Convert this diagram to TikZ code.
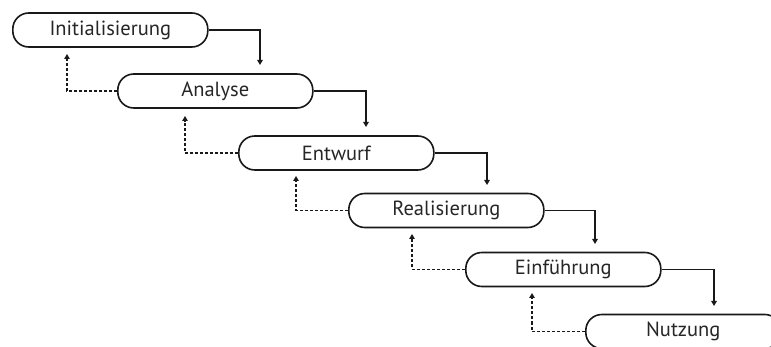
\documentclass[tikz,border=0pt]{standalone}
\usepackage{fontspec}
\setmainfont{PT Sans}
\usetikzlibrary{arrows.meta}
\tikzset{
  phase/.style={draw=black!90, line width=1.6pt, rectangle, rounded corners=16pt,
    minimum width=195pt, minimum height=34pt, inner sep=0pt, anchor=west,
    font=\fontsize{20.5}{24}\selectfont, text=black!85},
  flow/.style={draw=black!90, line width=1.4pt, -{Triangle[width=5.5pt,length=5pt]}},
  back/.style={draw=black!90, line width=1.4pt, dash pattern=on 3pt off 2pt, -{Triangle[width=5.5pt,length=5pt]}}
}
\begin{document}
\begin{tikzpicture}[x=1pt,y=-1pt]
\useasboundingbox (0,0) rectangle (771,347);
\fill[white] (0,0) rectangle (771,347);
\node[phase] (p1) at (12,30) {Initialisierung};
\node[phase] (p2) at (117,91) {Analyse};
\node[phase] (p3) at (238,153) {Entwurf};
\node[phase] (p4) at (348,210.5) {Realisierung};
\node[phase] (p5) at (465,269.5) {Einführung};
\node[phase] (p6) at (585,331.5) {Nutzung};
\coordinate (s1) at (260,65);
\coordinate (s2) at (366,127);
\coordinate (s3) at (487,185);
\coordinate (s4) at (595,244);
\coordinate (s5) at (714,306);
\draw[flow] (p1.east) -| (s1);
\draw[flow] (p2.east) -| (s2);
\draw[flow] (p3.east) -| (s3);
\draw[flow] (p4.east) -| (s4);
\draw[flow] (p5.east) -| (s5);
\coordinate (d1) at (67,54);
\coordinate (d2) at (185,116);
\coordinate (d3) at (296,176);
\coordinate (d4) at (412,234);
\coordinate (d5) at (532,293);
\draw[back] (p2.west) -| (d1);
\draw[back] (p3.west) -| (d2);
\draw[back] (p4.west) -| (d3);
\draw[back] (p5.west) -| (d4);
\draw[back] (p6.west) -| (d5);
\end{tikzpicture}
\end{document}
